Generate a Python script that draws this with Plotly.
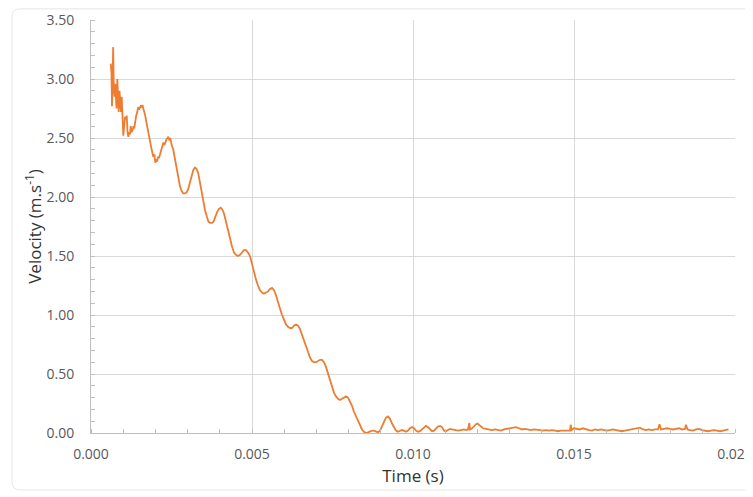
import plotly.graph_objects as go

# Time in milliseconds (converted to seconds for the axis) and velocity (m/s)
time_ms = [
    0.612, 0.637, 0.652, 0.671, 0.689, 0.708, 0.730, 0.752, 0.770, 0.792,
    0.817, 0.839, 0.860, 0.885, 0.910, 0.932, 0.953, 0.978, 1.003, 1.031,
    1.056, 1.087, 1.109, 1.134, 1.158, 1.186, 1.211, 1.233, 1.264, 1.295,
    1.320, 1.342, 1.366, 1.398, 1.435, 1.469, 1.506, 1.543, 1.575, 1.599,
    1.624, 1.677, 1.730, 1.780, 1.832, 1.885, 1.935, 1.972, 1.997, 2.019,
    2.050, 2.081, 2.112, 2.143, 2.174, 2.205, 2.245, 2.283, 2.314, 2.345,
    2.376, 2.401, 2.432, 2.463, 2.506, 2.556, 2.609, 2.661, 2.711, 2.764,
    2.817, 2.866, 2.919, 2.972, 3.022, 3.075, 3.127, 3.177, 3.230, 3.276,
    3.332, 3.385, 3.447, 3.494, 3.540, 3.602, 3.649, 3.696, 3.758, 3.804,
    3.851, 3.913, 3.975, 4.028, 4.084, 4.130, 4.193, 4.255, 4.317, 4.379,
    4.441, 4.503, 4.565, 4.627, 4.689, 4.752, 4.814, 4.876, 4.938,
    5.000, 5.062, 5.124, 5.186, 5.248, 5.311, 5.373, 5.435, 5.497, 5.559,
    5.621, 5.683, 5.745, 5.807, 5.870, 5.932, 5.994, 6.056, 6.118, 6.180,
    6.242, 6.304, 6.366, 6.429, 6.491, 6.553, 6.615, 6.677, 6.739, 6.801,
    6.863, 6.925, 6.988, 7.050, 7.112, 7.174, 7.236, 7.298, 7.360, 7.422,
    7.484, 7.547, 7.609, 7.671, 7.733, 7.795, 7.857, 7.919, 7.981, 8.043,
    8.106, 8.168, 8.230, 8.292, 8.354, 8.416, 8.478, 8.540, 8.602, 8.665,
    8.727, 8.789, 8.851, 8.913, 8.975, 9.037, 9.099, 9.161, 9.224, 9.286,
    9.348, 9.410, 9.472, 9.534, 9.596, 9.658, 9.720, 9.783, 9.845, 9.907,
    9.969, 10.031, 10.093, 10.155, 10.217, 10.280, 10.342, 10.404, 10.466, 10.528,
    10.590, 10.652, 10.714, 10.776, 10.839, 10.901, 10.963, 11.025, 11.087, 11.149,
    11.211,
    11.304, 11.398, 11.491, 11.584, 11.646, 11.708, 11.749, 11.770, 11.832, 11.894,
    11.957, 12.003, 12.050, 12.112, 12.174, 12.267, 12.360, 12.453, 12.547, 12.640,
    12.733, 12.826, 12.919, 13.012, 13.106, 13.199, 13.292, 13.385, 13.478, 13.571,
    13.665, 13.758, 13.851, 13.944, 14.037, 14.130, 14.224, 14.317, 14.410, 14.503,
    14.596, 14.689, 14.783, 14.876, 14.898, 14.922, 15.000, 15.093, 15.186, 15.280,
    15.373, 15.466, 15.559, 15.652, 15.745, 15.839, 15.932, 16.025, 16.118, 16.211,
    16.304, 16.398, 16.491, 16.584, 16.677, 16.770, 16.863, 16.957, 17.050, 17.143,
    17.236, 17.329, 17.422, 17.516, 17.609, 17.655, 17.702, 17.795, 17.888, 17.981,
    18.075, 18.168, 18.261, 18.354, 18.447, 18.478, 18.525, 18.602, 18.696, 18.789,
    18.882, 18.975, 19.068, 19.161, 19.255, 19.348, 19.441, 19.534, 19.627, 19.720,
    19.798,
]

velocity = [
    3.13, 3.05, 2.77, 3.10, 3.27, 2.90, 2.85, 2.96, 2.80, 2.75,
    3.00, 2.78, 2.72, 2.90, 2.78, 2.72, 2.85, 2.62, 2.52, 2.60,
    2.68, 2.66, 2.69, 2.55, 2.51, 2.55, 2.53, 2.60, 2.55, 2.57,
    2.60, 2.58, 2.63, 2.68, 2.72, 2.76, 2.75, 2.77, 2.76, 2.78,
    2.75, 2.70, 2.62, 2.54, 2.46, 2.40, 2.34, 2.36, 2.29, 2.32,
    2.30, 2.34, 2.33, 2.36, 2.40, 2.42, 2.46, 2.44, 2.47, 2.49,
    2.50, 2.51, 2.48, 2.50, 2.44, 2.40, 2.32, 2.23, 2.16, 2.09,
    2.05, 2.03, 2.03, 2.04, 2.07, 2.13, 2.19, 2.23, 2.25, 2.24,
    2.20, 2.12, 2.02, 1.96, 1.89, 1.83, 1.79, 1.78, 1.78, 1.79,
    1.83, 1.87, 1.90, 1.91, 1.89, 1.86, 1.79, 1.71, 1.64, 1.58,
    1.53, 1.51, 1.50, 1.51, 1.53, 1.55, 1.55, 1.53, 1.50,
    1.43, 1.36, 1.30, 1.25, 1.21, 1.19, 1.18, 1.19, 1.20, 1.22,
    1.23, 1.21, 1.17, 1.11, 1.05, 1.00, 0.96, 0.92, 0.90, 0.89,
    0.89, 0.91, 0.92, 0.91, 0.88, 0.83, 0.78, 0.73, 0.68, 0.64,
    0.61, 0.60, 0.60, 0.61, 0.62, 0.62, 0.60, 0.56, 0.50, 0.44,
    0.39, 0.34, 0.31, 0.29, 0.28, 0.29, 0.30, 0.31, 0.30, 0.27,
    0.23, 0.18, 0.14, 0.10, 0.06, 0.03, 0.01, 0.00, 0.005, 0.015,
    0.02, 0.02, 0.01, 0.005, 0.02, 0.06, 0.10, 0.13, 0.14, 0.12,
    0.08, 0.05, 0.02, 0.01, 0.02, 0.025, 0.02, 0.01, 0.02, 0.04,
    0.05, 0.04, 0.02, 0.01, 0.015, 0.03, 0.05, 0.06, 0.05, 0.03,
    0.015, 0.02, 0.04, 0.055, 0.06, 0.05, 0.02, 0.015, 0.025, 0.035,
    0.03,
    0.025, 0.02, 0.025, 0.03, 0.025, 0.03, 0.085, 0.03, 0.04, 0.06,
    0.075, 0.08, 0.07, 0.05, 0.04, 0.035, 0.03, 0.025, 0.03, 0.025,
    0.02, 0.03, 0.035, 0.04, 0.045, 0.05, 0.04, 0.03, 0.035, 0.03,
    0.025, 0.03, 0.03, 0.025, 0.02, 0.025, 0.02, 0.025, 0.02, 0.015,
    0.02, 0.02, 0.015, 0.02, 0.07, 0.025, 0.04, 0.035, 0.03, 0.04,
    0.03, 0.025, 0.02, 0.03, 0.025, 0.03, 0.025, 0.02, 0.025, 0.03,
    0.025, 0.02, 0.015, 0.02, 0.025, 0.03, 0.035, 0.04, 0.045, 0.03,
    0.025, 0.03, 0.025, 0.03, 0.03, 0.075, 0.03, 0.035, 0.04, 0.035,
    0.03, 0.035, 0.04, 0.03, 0.035, 0.07, 0.03, 0.025, 0.02, 0.03,
    0.035, 0.025, 0.02, 0.015, 0.02, 0.025, 0.02, 0.015, 0.02, 0.025,
    0.03,
]

x_tickvals = [0.000, 0.005, 0.010, 0.015, 0.020]
x_ticktext = ["0.000", "0.005", "0.010", "0.015", "0.020"]
y_tickvals = [0.0, 0.5, 1.0, 1.5, 2.0, 2.5, 3.0, 3.5]
y_ticktext = ["0.00", "0.50", "1.00", "1.50", "2.00", "2.50", "3.00", "3.50"]

time_s = [t / 1000.0 for t in time_ms]

fig = go.Figure()
fig.add_trace(go.Scatter(
    x=time_s, y=velocity, mode="lines",
    line=dict(color="#ED7D31", width=1.8),
    showlegend=False, hoverinfo="skip",
))

tick_font = dict(family="Open Sans, sans-serif", size=14, color="#595959")
title_font = dict(family="Open Sans, sans-serif", size=17, color="#333333")

# the page places the figure 8px from the top-left corner; size and margins compensate
fig.update_layout(
    width=745, height=489,
    margin=dict(l=83, r=18, t=12, b=64, autoexpand=False),
    paper_bgcolor="white", plot_bgcolor="white",
    xaxis=dict(
        range=[0, 0.020],
        tickvals=x_tickvals, ticktext=x_ticktext,
        tickfont=tick_font,
        showgrid=True, gridcolor="#d9d9d9", gridwidth=1,
        showline=True, linecolor="#bfbfbf", linewidth=1,
        zeroline=False, ticks="",
        ticklabelstandoff=8,
        ticklabeloverflow="allow",
        automargin=False,
        minor=dict(ticks="inside", dtick=0.001, ticklen=4, tickcolor="#bfbfbf", showgrid=False),
        title=dict(text="Time (s)", font=title_font, standoff=8),
    ),
    yaxis=dict(
        range=[0, 3.5],
        tickvals=y_tickvals, ticktext=y_ticktext,
        tickfont=tick_font,
        showgrid=True, gridcolor="#d9d9d9", gridwidth=1,
        showline=True, linecolor="#bfbfbf", linewidth=1,
        zeroline=False, ticks="",
        ticklabelstandoff=13,
        automargin=False,
        minor=dict(ticks="inside", dtick=0.1, ticklen=4, tickcolor="#bfbfbf", showgrid=False),
        title=dict(text="Velocity (m.s<sup>-1</sup>)", font=title_font, standoff=0),
    ),
)

# light rounded frame around the chart
x0, x1, y0, y1 = -0.1227, 1.06, -0.138, 1.027
rx, ry = 0.0124, 0.0194
path = (f"M {x0+rx},{y1} L {x1},{y1} L {x1},{y0} L {x0+rx},{y0} "
        f"Q {x0},{y0} {x0},{y0+ry} L {x0},{y1-ry} Q {x0},{y1} {x0+rx},{y1} Z")
fig.add_shape(type="path", path=path, xref="paper", yref="paper",
              line=dict(color="#e6e6e6", width=1), layer="below")

fig.write_html("out.html")
